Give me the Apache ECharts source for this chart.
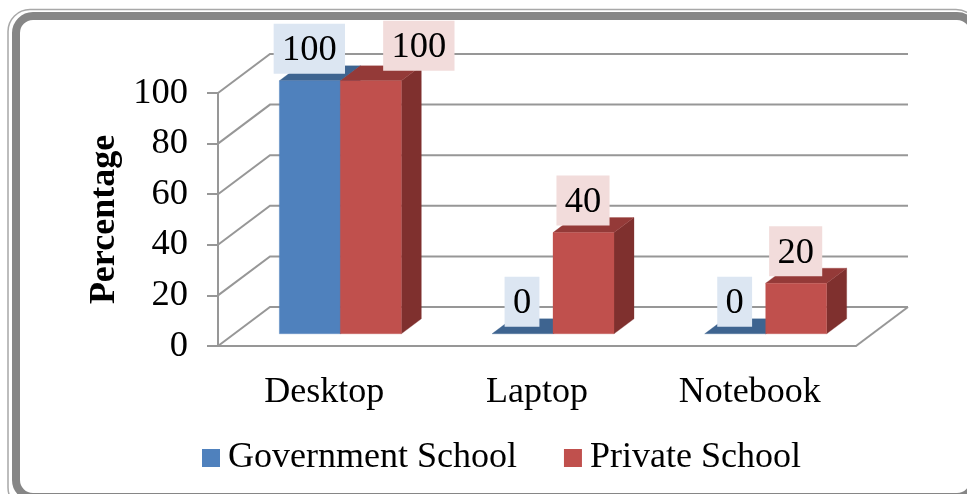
<!DOCTYPE html>
<html>
<head>
<meta charset="utf-8">
<style>html,body{margin:0;padding:0;background:#fff}#c{width:967px;height:494px}</style>
<script src="https://cdn.jsdelivr.net/npm/echarts@6/dist/echarts.min.js"></script>
</head>
<body>
<div id="c"></div>
<script>
const categories = ['Desktop', 'Laptop', 'Notebook'];
const governmentSchool = [100, 0, 0];
const privateSchool = [100, 40, 20];
const yTicks = [0, 20, 40, 60, 80, 100];

const FONT = '"Liberation Serif","Times New Roman",serif';
const GRID_COLOR = '#979797';
const WALL = { dx: 52, dy: -39 };
const BAR_START = { dx: 16, dy: -12.2 };
const BAR_DEPTH = { dx: 20, dy: -15 };
const BAR_WIDTH = 61;
const STYLES = {
  gov: { front: '#4F81BD', top: '#3E6490', side: '#385D8A', label: '#DCE6F2' },
  pri: { front: '#C0504D', top: '#943A38', side: '#7F302E', label: '#F2DCDB' }
};
// manual displacement of one label, as placed in the original
const LABEL_NUDGE = { pri: { 0: [48.5, -3] } };

function poly(points, fill) {
  return { type: 'polygon', shape: { points }, style: { fill, stroke: fill, lineWidth: 0.3 } };
}

function barRenderer(key, side) {
  const c = STYLES[key];
  return function (params, api) {
    const idx = api.value(0), val = api.value(1);
    const base = api.coord([idx, 0]), peak = api.coord([idx, val]);
    const x0 = base[0] + BAR_START.dx + (side < 0 ? -BAR_WIDTH : 0);
    const x1 = x0 + BAR_WIDTH;
    const yb = base[1] + BAR_START.dy, yt = peak[1] + BAR_START.dy;
    const d = BAR_DEPTH;
    const children = [
      poly([[x1, yb], [x1 + d.dx, yb + d.dy], [x1 + d.dx, yt + d.dy], [x1, yt]], c.side),
      poly([[x0, yt], [x1, yt], [x1 + d.dx, yt + d.dy], [x0 + d.dx, yt + d.dy]], c.top)
    ];
    if (val > 0) children.push(poly([[x0, yb], [x1, yb], [x1, yt], [x0, yt]], c.front));
    const nudge = (LABEL_NUDGE[key] && LABEL_NUDGE[key][idx]) || [0, 0];
    children.push({
      type: 'text', z2: 100,
      style: {
        x: (x0 + x1) / 2 - 0.5 + nudge[0], y: yt - 7 + nudge[1],
        text: String(val), align: 'center', verticalAlign: 'bottom',
        font: '36.5px ' + FONT, fill: '#000',
        backgroundColor: c.label, padding: [4, 8.3, 0, 8.3], lineHeight: 46
      }
    });
    return { type: 'group', children };
  };
}

function wallRenderer(params, api) {
  const v = api.value(0);
  const cs = params.coordSys;
  const y = api.coord([0, v])[1];
  const children = [{
    type: 'polyline',
    shape: { points: [[cs.x, y], [cs.x + WALL.dx, y + WALL.dy], [cs.x + cs.width + WALL.dx, y + WALL.dy]] },
    style: { stroke: GRID_COLOR, lineWidth: 2, fill: 'none' }
  }];
  if (v === 0) {
    children.push({
      type: 'line',
      shape: { x1: cs.x + cs.width, y1: y, x2: cs.x + cs.width + WALL.dx, y2: y + WALL.dy },
      style: { stroke: GRID_COLOR, lineWidth: 2 }
    });
  }
  return { type: 'group', children };
}

const chart = echarts.init(document.getElementById('c'), null, { renderer: 'canvas' });
chart.setOption({
  animation: false,
  backgroundColor: '#fff',
  textStyle: { fontFamily: FONT },
  graphic: [
    { type: 'rect', z: -10, shape: { x: 8, y: 9.5, width: 970, height: 500, r: 22 },
      style: { fill: 'none', stroke: '#A8A8A8', lineWidth: 1.5 }, silent: true },
    { type: 'rect', z: -9, shape: { x: 16, y: 16, width: 958, height: 481, r: 17 },
      style: { fill: '#fff', stroke: '#868686', lineWidth: 8 }, silent: true }
  ],
  grid: { left: 218, right: 111, top: 93, bottom: 148 },
  legend: {
    left: 197, top: 433, itemWidth: 18, itemHeight: 18, itemGap: 47,
    icon: 'rect',
    data: ['Government School', 'Private School'],
    textStyle: { fontFamily: FONT, fontSize: 36, color: '#000', padding: [2, 0, 0, 3], lineHeight: 38 }
  },
  xAxis: {
    type: 'category', data: categories,
    axisLine: { show: true, lineStyle: { color: GRID_COLOR, width: 2 } },
    axisTick: { show: false }, splitLine: { show: false },
    axisLabel: { fontFamily: FONT, fontSize: 36, color: '#000', margin: 29 }
  },
  yAxis: {
    type: 'value', min: 0, max: 100, interval: 20,
    name: 'Percentage', nameLocation: 'middle', nameGap: 93, nameRotate: 90,
    nameTextStyle: { fontFamily: FONT, fontSize: 36, fontWeight: 'bold', color: '#000' },
    axisLine: { show: true, lineStyle: { color: GRID_COLOR, width: 2 } },
    axisTick: { show: true, length: 11, lineStyle: { color: GRID_COLOR, width: 2 } },
    splitLine: { show: false },
    axisLabel: { fontFamily: FONT, fontSize: 36.5, color: '#000', margin: 30, padding: [4, 0, 0, 0] }
  },
  series: [
    { type: 'custom', name: 'walls', renderItem: wallRenderer, clip: false, silent: true,
      encode: { y: 0 }, data: yTicks.map(v => [v]) },
    { type: 'custom', name: 'Government School', renderItem: barRenderer('gov', -1), clip: false,
      itemStyle: { color: STYLES.gov.front }, encode: { x: 0, y: 1 },
      data: governmentSchool.map((v, i) => [i, v]) },
    { type: 'custom', name: 'Private School', renderItem: barRenderer('pri', 1), clip: false,
      itemStyle: { color: STYLES.pri.front }, encode: { x: 0, y: 1 },
      data: privateSchool.map((v, i) => [i, v]) }
  ]
});
</script>
</body>
</html>
